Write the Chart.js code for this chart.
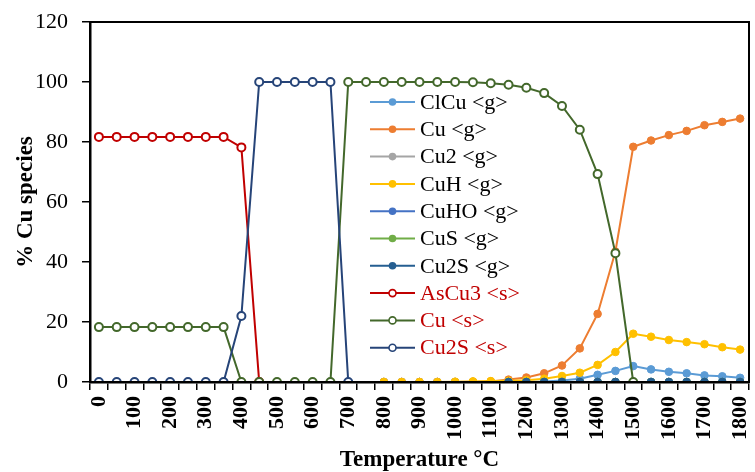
<!DOCTYPE html>
<html>
<head>
<meta charset="utf-8">
<script src="https://cdn.jsdelivr.net/npm/chart.js@4.4.1/dist/chart.umd.min.js"></script>
<style>
  html, body { margin: 0; padding: 0; background: #fff; }
  #wrap { width: 755px; height: 472px; }
</style>
</head>
<body>
<div id="wrap"><canvas id="cuChart" width="755" height="472"></canvas></div>
<script>
// temperature steps (°C)
const temps = [0, 50, 100, 150, 200, 250, 300, 350, 400, 450, 500, 550, 600, 650, 700, 750,
  800, 850, 900, 950, 1000, 1050, 1100, 1150, 1200, 1250, 1300, 1350, 1400, 1450, 1500,
  1550, 1600, 1650, 1700, 1750, 1800];

const yTicks = [0, 20, 40, 60, 80, 100, 120];

const N = null;
// gas species, from 800 or 1150 °C on
const clcuG = [N, N, N, N, N, N, N, N, N, N, N, N, N, N, N, N,
  0, 0, 0, 0, 0, 0, 0, 0.05, 0.1, 0.2, 0.5, 1.1, 2.4, 3.7, 5.3, 4.2, 3.4, 2.9, 2.2, 1.9, 1.4];
const cuG = [N, N, N, N, N, N, N, N, N, N, N, N, N, N, N, N,
  0, 0, 0, 0, 0, 0.1, 0.2, 0.8, 1.5, 2.9, 5.5, 11.2, 22.7, 43.5, 78.4, 80.5, 82.3, 83.7, 85.6, 86.7, 87.8];
const cu2G = [N, N, N, N, N, N, N, N, N, N, N, N, N, N, N, N,
  0, 0, 0, 0, 0, 0, 0, 0, 0, 0, 0, 0, 0, 0, 0, 0, 0, 0, 0, 0, 0];
const cuhG = [N, N, N, N, N, N, N, N, N, N, N, N, N, N, N, N,
  0, 0, 0, 0, 0.1, 0.2, 0.3, 0.4, 0.6, 1.1, 2.0, 3.1, 5.7, 10.0, 16.1, 15.1, 14.0, 13.3, 12.6, 11.6, 10.8];
const cuhoG = [N, N, N, N, N, N, N, N, N, N, N, N, N, N, N, N,
  N, N, N, N, N, N, N, 0, 0, 0, 0, 0, 0, 0, 0, 0, 0, 0, 0, 0, 0];
const cusG = [N, N, N, N, N, N, N, N, N, N, N, N, N, N, N, N,
  N, N, N, N, N, N, N, 0, 0, 0, 0, 0, 0, 0, 0, 0, 0, 0, 0, 0, 0];
const cu2sG = [N, N, N, N, N, N, N, N, N, N, N, N, N, N, N, N,
  N, N, N, N, N, N, N, 0, 0, 0, 0, 0, 0, 0, 0, 0, 0, 0, 0, 0, 0];
// solid species
const ascu3S = [81.7, 81.7, 81.7, 81.7, 81.7, 81.7, 81.7, 81.7, 78.2, 0];
const cuS = [18.3, 18.3, 18.3, 18.3, 18.3, 18.3, 18.3, 18.3, 0, 0, 0, 0, 0, 0, 100, 100,
  100, 100, 100, 100, 100, 99.9, 99.6, 99.1, 98.1, 96.3, 92.0, 84.1, 69.3, 42.9, 0];
const cu2sS = [0, 0, 0, 0, 0, 0, 0, 0, 22, 100, 100, 100, 100, 100, 0];

const seriesNames = ['ClCu <g>', 'Cu <g>', 'Cu2 <g>', 'CuH <g>', 'CuHO <g>', 'CuS <g>', 'Cu2S <g>',
  'AsCu3 <s>', 'Cu <s>', 'Cu2S <s>'];
const seriesData = [clcuG, cuG, cu2G, cuhG, cuhoG, cusG, cu2sG, ascu3S, cuS, cu2sS];
const seriesColors = ['#5B9BD5', '#ED7D31', '#A5A5A5', '#FFC000', '#4472C4', '#70AD47', '#255E91',
  '#C00000', '#43682B', '#264478'];

const SERIF = "'Liberation Serif', 'Times New Roman', serif";

const datasets = seriesNames.map(function (name, i) {
  const solid = i >= 7;
  return {
    label: name,
    data: seriesData[i],
    borderColor: seriesColors[i],
    backgroundColor: solid ? '#ffffff' : seriesColors[i],
    pointBackgroundColor: solid ? '#ffffff' : seriesColors[i],
    pointBorderColor: seriesColors[i],
    pointBorderWidth: solid ? 2 : 1,
    pointRadius: solid ? 4 : 3.8,
    borderWidth: 2,
    tension: 0,
    spanGaps: false,
    order: 20 - i, // later series on top, like the original
    legendColor: solid ? '#C00000' : '#000000'
  };
});

// frame round the plot area
const frame = {
  id: 'frame',
  afterDraw(chart) {
    const a = chart.chartArea, ctx = chart.ctx;
    ctx.save();
    ctx.strokeStyle = '#000';
    ctx.lineWidth = 2;
    ctx.strokeRect(a.left, a.top, a.right - a.left, a.bottom - a.top);
    ctx.restore();
  }
};

// legend drawn inside the plot
const innerLegend = {
  id: 'innerLegend',
  afterDatasetsDraw(chart) {
    const ctx = chart.ctx, a = chart.chartArea;
    const x0 = a.left + 280, y0 = a.top + 80, step = 27.3;
    ctx.save();
    ctx.font = '22px ' + SERIF;
    ctx.textBaseline = 'middle';
    chart.data.datasets.forEach(function (ds, i) {
      const y = y0 + i * step;
      ctx.strokeStyle = ds.borderColor;
      ctx.lineWidth = 2;
      ctx.beginPath();
      ctx.moveTo(x0, y);
      ctx.lineTo(x0 + 45, y);
      ctx.stroke();
      ctx.beginPath();
      ctx.arc(x0 + 22.5, y, i >= 7 ? 3.5 : 3.8, 0, Math.PI * 2);
      ctx.fillStyle = ds.pointBackgroundColor;
      ctx.fill();
      if (i >= 7) { ctx.lineWidth = 1.6; ctx.stroke(); }
      ctx.fillStyle = ds.legendColor;
      ctx.fillText(ds.label, x0 + 50, y + 1);
    });
    ctx.restore();
  }
};

new Chart(document.getElementById('cuChart'), {
  type: 'line',
  data: { labels: temps, datasets: datasets },
  options: {
    responsive: false,
    animation: false,
    layout: { padding: { top: 22, right: 2, left: 0, bottom: 0 } },
    plugins: { legend: { display: false }, tooltip: { enabled: false } },
    scales: {
      x: {
        type: 'category',
        offset: true,
        grid: { offset: true, drawOnChartArea: false, drawTicks: true, tickLength: 8, color: '#000', lineWidth: 1.5 },
        border: { display: true, color: '#000', width: 2.5 },
        ticks: {
          autoSkip: false, minRotation: 90, maxRotation: 90, padding: 6,
          color: '#000', font: { family: SERIF, size: 22, weight: 'bold' },
          callback: function (v, idx) { return idx % 2 === 0 ? String(temps[idx]) : ''; }
        },
        title: { display: true, text: 'Temperature °C', color: '#000',
          font: { family: SERIF, size: 23, weight: 'bold', lineHeight: 1 }, padding: { top: 0, bottom: 0 } },
        afterFit: function (s) { s.height = 90; s.paddingLeft = 0; s.paddingRight = 0; }
      },
      y: {
        min: 0, max: 120,
        afterBuildTicks: function (s) { s.ticks = yTicks.map(v => ({ value: v })); },
        grid: { drawOnChartArea: false, drawTicks: true, tickLength: 8, color: '#000', lineWidth: 1.5 },
        border: { display: true, color: '#000', width: 2.5 },
        ticks: { padding: 14, color: '#000', font: { family: SERIF, size: 22 } },
        title: { display: true, text: '% Cu species', color: '#000',
          font: { family: SERIF, size: 23, weight: 'bold' }, padding: { top: 12, bottom: 0 } },
        afterFit: function (s) { s.width = 90; s.paddingTop = 0; s.paddingBottom = 0; }
      }
    }
  },
  plugins: [frame, innerLegend]
});
</script>
</body>
</html>
